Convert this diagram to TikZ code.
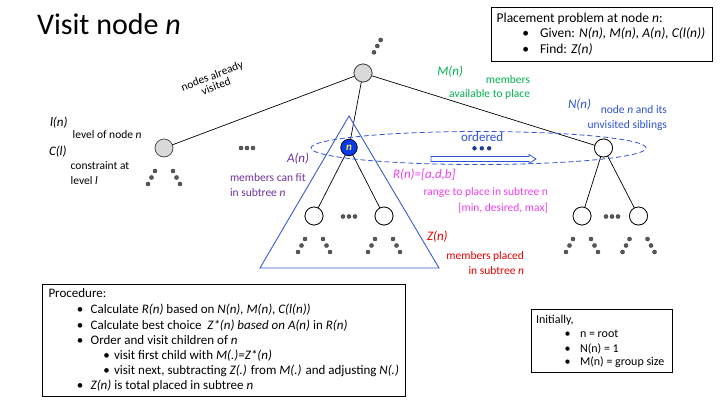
\documentclass[tikz,border=0pt]{standalone}
\usepackage{fontspec}
\setmainfont{Carlito}
\usetikzlibrary{shapes.geometric}
\definecolor{nodegray}{HTML}{D9D9D9}
\definecolor{dotgray}{HTML}{595959}
\definecolor{nblue}{HTML}{0A3CE6}
\definecolor{tblue}{HTML}{3A5BD0}
\definecolor{lblue}{HTML}{2F52D6}
\definecolor{navy}{HTML}{1F3A93}
\definecolor{lpurple}{HTML}{7030A0}
\definecolor{lgreen}{HTML}{00B050}
\definecolor{lmagenta}{HTML}{EE40EE}
\definecolor{lred}{HTML}{E60000}
\definecolor{nyellow}{HTML}{FFE94D}
\begin{document}
\begin{tikzpicture}[x=1pt,y=-1pt,
  every node/.style={inner sep=0pt, outer sep=0pt},
  tnode/.style={circle, draw=black, line width=0.7pt, minimum size=18pt},
  gnode/.style={tnode, fill=nodegray, draw=black!75},
  wnode/.style={tnode, fill=white},
  dot/.style={circle, fill=dotgray, draw=black!85, line width=0.3pt, minimum size=4.1pt},
  ndot/.style={circle, fill=navy, minimum size=4.4pt},
  edge/.style={draw=black, line width=0.7pt},
  ital/.style={font=\fontsize{13}{15}\selectfont\itshape, anchor=base west},
  small/.style={font=\fontsize{11.5}{13}\selectfont},
  sl/.style={small, anchor=base west},
  sr/.style={small, anchor=base east},
  boxtxt/.style={font=\fontsize{13.5}{16}\selectfont, anchor=base west},
  proctxt/.style={font=\fontsize{13}{15}\selectfont, anchor=base west},
  inittxt/.style={font=\fontsize{12}{14}\selectfont, anchor=base west},
  kids/.pic={\foreach \dx/\dy in {-9/23,-12.5/29.5,-16/36,9/23,12.5/29.5,16/36} \node[dot] at (\dx,\dy) {};},
  hdots/.pic={\foreach \dx in {-6,0,6} \node[dot] at (\dx,0) {};}
]
\useasboundingbox (0,0) rectangle (720,405);

% title
\node[font=\fontsize{30}{34}\selectfont, anchor=base west] (title) at (37,34.5) {Visit node \textit{n}};

% tree nodes
\node[gnode] (root) at (363,73) {};
\node[gnode] (left) at (164,148) {};
\node[wnode] (sib) at (603.5,148) {};
\node[wnode] (c1) at (314,216) {};
\node[wnode] (c2) at (384,216) {};
\node[wnode] (s1) at (582,216) {};
\node[wnode] (s2) at (638.5,216) {};
\coordinate (napos) at (349,147.5);

% edges
\draw[edge] (root) -- (left);
\draw[edge] (root) -- (sib);
\draw[edge] (root) -- (napos);
\draw[edge] (napos) -- (c1);
\draw[edge] (napos) -- (c2);
\draw[edge] (sib) -- (s1);
\draw[edge] (sib) -- (s2);

% ordered ellipse
\node[ellipse, draw=lblue, line width=0.8pt, dash pattern=on 5pt off 3pt, minimum width=335pt, minimum height=33pt] (ord) at (478.5,148) {};

% subtree triangle
\coordinate (tapex) at (349,116);
\coordinate (tbl) at (260,268);
\coordinate (tbr) at (439,268);
\draw[tblue, line width=0.9pt] (tapex) -- (tbl) -- (tbr) -- cycle;

% redraw nodes on top
\foreach \n in {c1,c2,s1,s2,sib} \node[wnode] at (\n) {};
\node[gnode] at (root) {};

% node n
\node[circle, fill=nblue, draw=black!80!blue, line width=0.8pt, minimum size=16.5pt,
      font=\fontsize{11}{12}\selectfont\bfseries\itshape, text=nyellow] (n) at (napos) {n};

% dots
\node[dot] (rd1) at (374,52.3) {};
\node[dot] (rd2) at (377.3,46) {};
\node[dot] (rd3) at (380.7,40) {};
\pic at (left) {kids};
\pic at (c1) {kids};
\pic at (c2) {kids};
\pic at (s1) {kids};
\pic at (s2) {kids};
\pic at (247,148) {hdots};
\pic at (349,216.5) {hdots};
\pic at (612,216.5) {hdots};
\foreach \dx in {474.5,481.8,489.1} \node[ndot] at (\dx,148.3) {};

% ordered arrow
\draw[lblue, fill=white, line width=0.8pt]
  (431,156.5) -- (529,156.5) -- (529,154.5) -- (536,159) -- (529,163.5) -- (529,161.5) -- (431,161.5) -- cycle;
\node[font=\fontsize{13}{15}\selectfont, text=lblue, anchor=base west] (ordtxt) at (461,141.3) {ordered};

% left labels
\node[ital] (ln) at (50,126) {l(n)};
\node[sl] (lnt) at (72.7,138.5) {level of node \textit{n}};
\node[ital] (cl) at (49,155) {C(l)};
\node[sl] (clt1) at (70.7,169.5) {constraint at};
\node[sl] (clt2) at (70.7,184.5) {level \textit{l}};
\node[align=center, rotate=21, font=\fontsize{11.5}{11}\selectfont] (visited) at (214,81) {nodes already\\visited};

% A(n)
\node[ital, text=lpurple] (an) at (287,162.5) {A(n)};
\node[sl, text=lpurple] (ant1) at (230,181.5) {members can fit};
\node[sl, text=lpurple] (ant2) at (230,196) {in subtree \textit{n}};

% M(n)
\node[ital, text=lgreen] (mn) at (437.3,75) {M(n)};
\node[sr, text=lgreen] (mnt1) at (530,83) {members};
\node[sr, text=lgreen] (mnt2) at (530,97.5) {available to place};

% N(n)
\node[ital, text=lblue] (nn) at (568,108.5) {N(n)};
\node[sr, text=lblue] (nnt1) at (667,113.5) {node \textit{n} and its};
\node[sr, text=lblue] (nnt2) at (667,128.5) {unvisited siblings};

% R(n)
\node[ital, text=lmagenta] (rn) at (393,178.5) {R(n)=[a,d,b]};
\node[sr, text=lmagenta] (rnt1) at (548,195.5) {range to place in subtree n};
\node[sr, text=lmagenta] (rnt2) at (548,211) {[min, desired, max]};

% Z(n)
\node[ital, text=lred] (zn) at (427,240) {Z(n)};
\node[sr, text=lred] (znt1) at (524,259.5) {members placed};
\node[sr, text=lred] (znt2) at (524,274.5) {in subtree \textit{n}};

% placement box
\draw[line width=0.9pt] (491.7,7.3) rectangle (712.3,61.7);
\node[boxtxt] (pp0) at (496.7,22.3) {Placement problem at node \textit{n}:};
\node[boxtxt, anchor=base] (pb1) at (525.7,37.3) {•};
\node[boxtxt] (pp1) at (540,37.3) {Given: \textit{N(n), M(n), A(n), C(l(n))}};
\node[boxtxt, anchor=base] (pb2) at (525.7,53.3) {•};
\node[boxtxt] (pp2) at (540,53.3) {Find: \textit{Z(n)}};

% procedure box
\draw[line width=0.9pt] (42.3,284) rectangle (405,396);
\node[proctxt] (pr0) at (48.5,297) {Procedure:};
\node[proctxt, anchor=base] (prb1) at (80,313) {•};
\node[proctxt] (pr1) at (90.7,313) {Calculate \textit{R(n)} based on \textit{N(n), M(n), C(l(n))}};
\node[proctxt, anchor=base] (prb2) at (80,329) {•};
\node[proctxt] (pr2) at (90.7,329) {Calculate best choice \ \textit{Z*(n) based on A(n)} in \textit{R(n)}};
\node[proctxt, anchor=base] (prb3) at (80,344) {•};
\node[proctxt] (pr3) at (90.7,344) {Order and visit children of \textit{n}};
\node[proctxt, anchor=base] (prb4) at (106.7,359) {•};
\node[proctxt] (pr4) at (114,359) {visit first child with \textit{M(.)=Z*(n)}};
\node[proctxt, anchor=base] (prb5) at (106.7,374) {•};
\node[proctxt] (pr5) at (114,374) {visit next, subtracting \textit{Z(.)} from \textit{M(.)} and adjusting \textit{N(.)}};
\node[proctxt, anchor=base] (prb6) at (80,389) {•};
\node[proctxt] (pr6) at (90.7,389) {\textit{Z(n)} is total placed in subtree \textit{n}};

% initially box
\draw[line width=0.9pt] (531.7,309.3) rectangle (672.7,372.3);
\node[inittxt] (in0) at (536,323.5) {Initially,};
\node[inittxt, anchor=base] (inb1) at (567.7,337) {•};
\node[inittxt] (in1) at (580,337) {n = root};
\node[inittxt, anchor=base] (inb2) at (567.7,352) {•};
\node[inittxt] (in2) at (580,352) {N(n) = 1};
\node[inittxt, anchor=base] (inb3) at (567.7,365.5) {•};
\node[inittxt] (in3) at (580,365.5) {M(n) = group size};
\end{tikzpicture}
\end{document}
